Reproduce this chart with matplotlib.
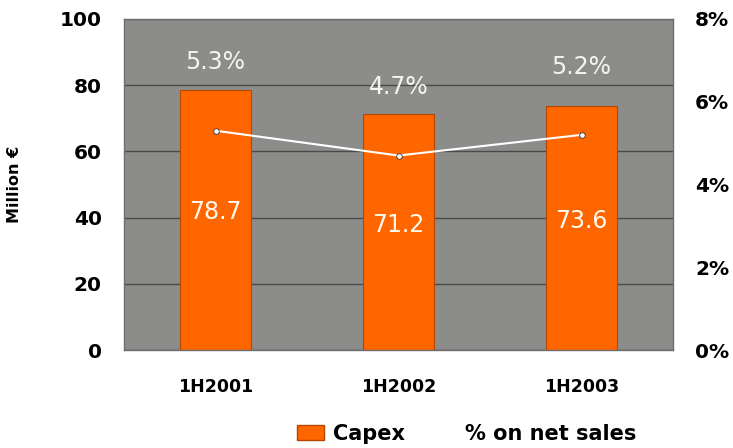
import matplotlib
matplotlib.use("Agg")
import matplotlib.pyplot as plt
from matplotlib.lines import Line2D
from matplotlib.patches import Patch

categories = ["1H2001", "1H2002", "1H2003"]
capex = [78.7, 71.2, 73.6]
pct_sales = [5.3, 4.7, 5.2]
left_ticks = [0, 20, 40, 60, 80, 100]
right_ticks = [0, 2, 4, 6, 8]

plt.rcParams['font.family'] = ['DejaVu Sans']

fig = plt.figure(figsize=(7.33, 4.48), dpi=100)
ax = fig.add_axes([124/733, 1-350/448, 549/733, 331/448])
ax.set_facecolor('#8c8d8b')
x = list(range(len(categories)))
ax.bar(x, capex, width=0.39, color='#ff6600', edgecolor='#b34700', linewidth=0.8, zorder=2)
ax.set_xlim(-0.5, 2.5)
ax.set_ylim(0, 100)
ax.set_yticks(left_ticks)
ax.set_yticklabels([str(t) for t in left_ticks], fontsize=14.5, fontweight='bold')
ax.set_xticks(x)
ax.set_xticklabels(categories, fontsize=12.5, fontweight='bold')
ax.tick_params(axis='x', length=0, pad=20)
ax.tick_params(axis='y', length=0, pad=16)
ax.grid(axis='y', color='#4a4a4a', linewidth=1.0, zorder=1)
ax.set_axisbelow(True)
for s in ax.spines.values():
    s.set_color('#6e6e6e')
    s.set_linewidth(1)
ax.set_ylabel("Million €", fontsize=11.5, fontweight='bold')
ax.yaxis.set_label_coords(-0.186, 0.5)

for xi, v in zip(x, capex):
    ax.text(xi, v * 0.53, f"{v:.1f}", ha='center', va='center', color='#fffaf0', fontsize=17, zorder=4)

ax2 = ax.twinx()
ax2.set_ylim(0, 8)
ax2.set_yticks(right_ticks)
ax2.set_yticklabels([f"{t}%" for t in right_ticks], fontsize=14.5, fontweight='bold')
ax2.tick_params(axis='y', length=0, pad=16)
for s in ax2.spines.values():
    s.set_visible(False)
ax2.plot(x, pct_sales, color='white', linewidth=1.5, marker='o', markersize=4,
         markerfacecolor='white', markeredgecolor='#333333', markeredgewidth=0.6, zorder=3)
for xi, p in zip(x, pct_sales):
    ax2.text(xi, p + 1.65, f"{p:.1f}%", ha='center', va='center', color='#f4f4f0', fontsize=17, zorder=4)

handles = [Patch(facecolor='#ff6600', edgecolor='#b34700', label='Capex'),
           Line2D([0], [0], color='white', linewidth=1.5, label='% on net sales')]
leg = fig.legend(handles=handles, loc='center', bbox_to_anchor=(467/733, 1-434/448), ncol=2,
                 frameon=False, prop={'weight': 'bold', 'size': 15}, handlelength=1.3,
                 handleheight=0.7, handletextpad=0.4, columnspacing=1.2)

fig.savefig("out.png", dpi=100)
